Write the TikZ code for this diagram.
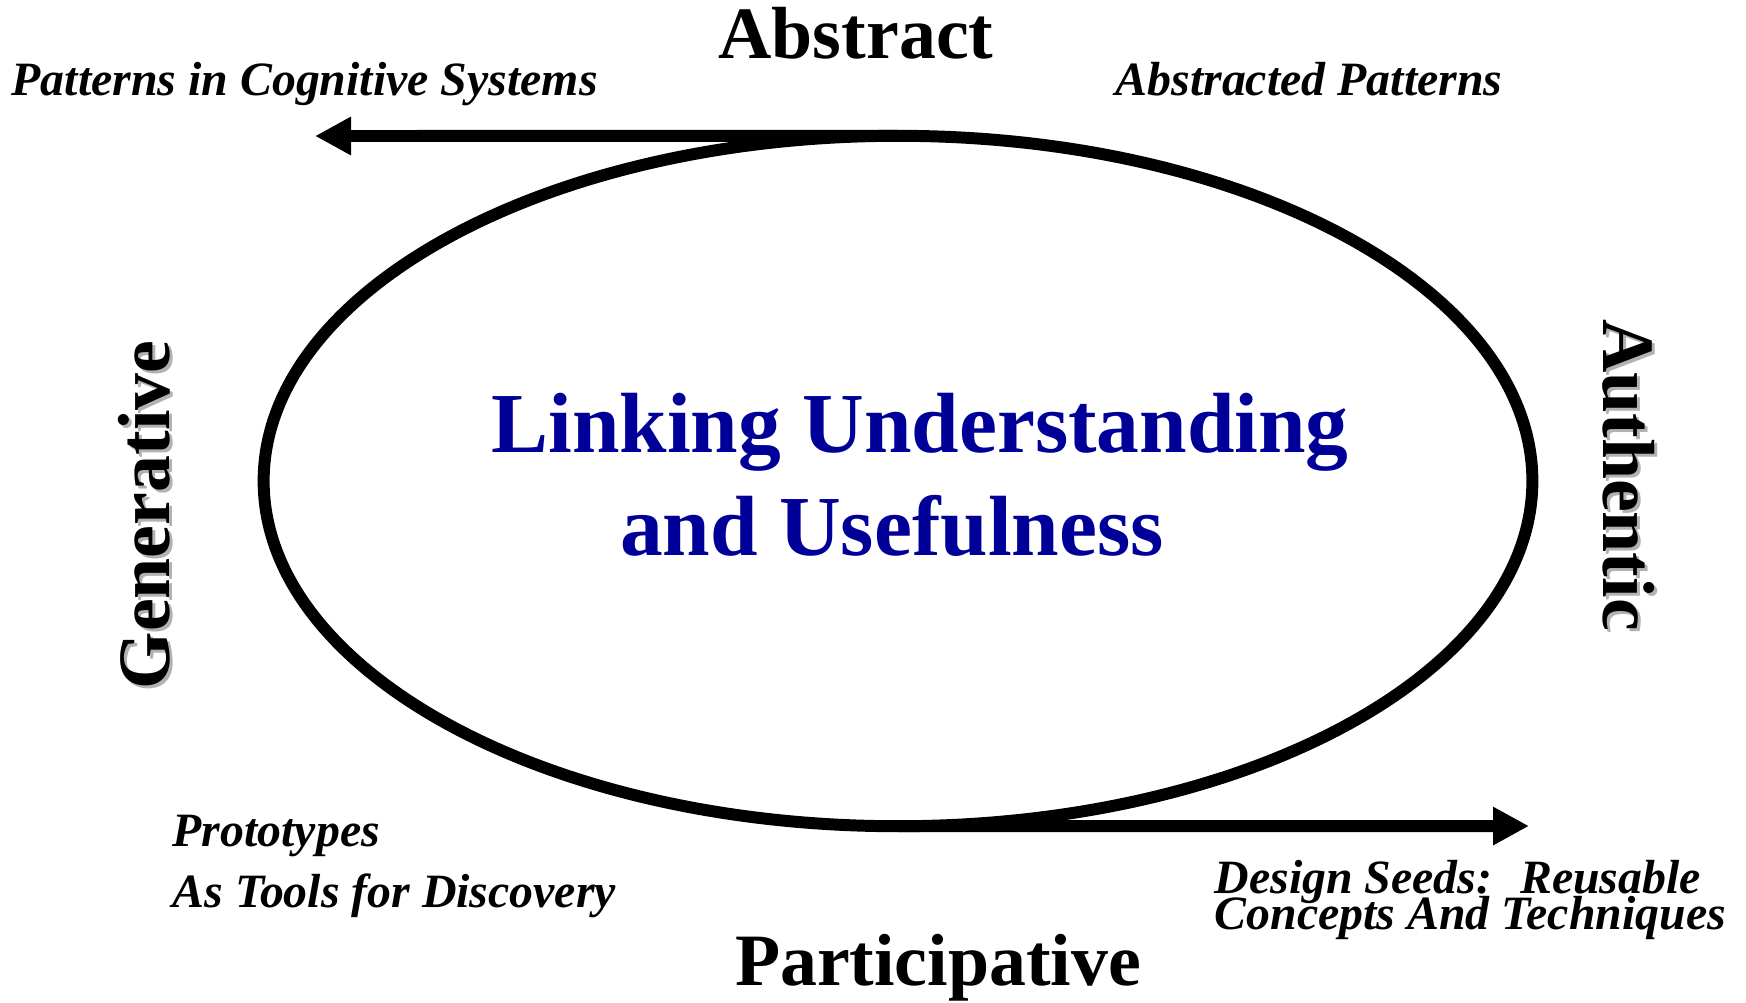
\documentclass[tikz,border=0pt]{standalone}
\usepackage{fontspec}
\setmainfont{Liberation Serif}
\usepackage{xcolor}
\usepackage{tikz}
\usetikzlibrary{arrows.meta, shapes.geometric, positioning}

\definecolor{titleblue}{RGB}{0,0,153}

\begin{document}
\begin{tikzpicture}[
                x=0.01cm, y=-0.01cm,
                loopline/.style={line width=3.4pt},
                bigword/.style={font=\fontsize{21}{25}\selectfont\bfseries, inner sep=0pt},
                shadowword/.style={bigword, text=black!30},
                smallword/.style={font=\fontsize{13.6}{16}\selectfont\bfseries\itshape, inner sep=0pt, anchor=base west},
                titleword/.style={font=\fontsize{24.3}{29}\selectfont\bfseries, text=titleblue, inner sep=0pt, anchor=base},
                flow/.style={loopline, -{Triangle[length=0.36cm, width=0.36cm]}}
            ]
                \useasboundingbox (0,0) rectangle (1746,1002);

                % Central loop
                \node[ellipse, draw, loopline, minimum width=12.68cm, minimum height=6.9cm, inner sep=0pt, outer sep=0pt] (loop) at (898,481) {};
                \node[titleword] (title1) at (920,452) {Linking Understanding};
                \node[titleword] (title2) at (892,555) {and Usefulness};

                % Arrow ends
                \coordinate (leftend) at (315,136);
                \coordinate (rightend) at (1529,826);
                \draw[flow] (loop.north) -- (leftend);
                \draw[flow] (loop.south) -- (rightend);

                % Poles
                \node[bigword, anchor=base] (abstract) at (856,58) {Abstract};
                \node[bigword, anchor=base] (particip) at (938,985) {Participative};
                \node[shadowword, anchor=base, rotate=90] (genshadow) at (172,518) {Generative};
                \node[bigword, anchor=base, rotate=90] (generative) at (169,515) {Generative};
                \node[shadowword, anchor=base, rotate=-90] (authshadow) at (1606,478) {Authentic};
                \node[bigword, anchor=base, rotate=-90] (authentic) at (1603,475) {Authentic};

                % Corner labels
                \node[smallword] (cognitive) at (11,95) {Patterns in Cognitive Systems};
                \node[smallword] (abstracted) at (1115,95) {Abstracted Patterns};
                \node[smallword] (proto1) at (172,846) {Prototypes};
                \node[smallword] (proto2) at (172,907) {As Tools for Discovery};
                \node[smallword] (seeds1) at (1214,893) {Design Seeds:~ Reusable};
                \node[smallword] (seeds2) at (1214,929) {Concepts And Techniques};
            \end{tikzpicture}
\end{document}
